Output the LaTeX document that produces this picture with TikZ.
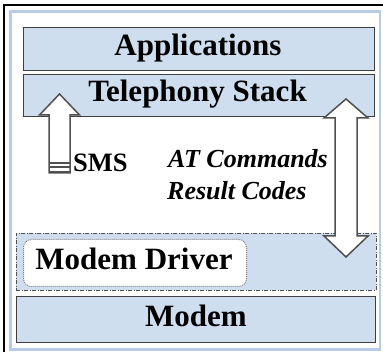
\documentclass[tikz,border=0pt]{standalone}
\usepackage{fontspec}
\setmainfont{Liberation Serif}
\definecolor{layerblue}{RGB}{206,222,238}
\definecolor{frameblue}{RGB}{184,204,232}
\definecolor{edgegray}{RGB}{80,80,80}
\begin{document}
\begin{tikzpicture}[x=1pt,y=-1pt,
  layer/.style={draw=black!75,fill=layerblue,line width=1pt,inner sep=0pt,anchor=north west},
  bigtxt/.style={font=\fontsize{31}{31}\selectfont\bfseries,inner sep=0pt,anchor=base},
  midtxt/.style={font=\fontsize{26.5}{26.5}\selectfont\bfseries,inner sep=0pt,anchor=base west},
  itxt/.style={font=\fontsize{26}{26}\selectfont\bfseries\itshape,inner sep=0pt,anchor=base west},
  blockarrow/.style={draw=edgegray,fill=white,line width=1.5pt,line join=miter}]
\useasboundingbox (0,0) rectangle (383,352);
\fill[white] (0,0) rectangle (383,352);
\draw[black,line width=1.2pt] (4,352) -- (4,5) -- (383,5);
\draw[frameblue,line width=2.5pt] (10.5,11.5) rectangle (380,349.5);
% layers
\node[layer,minimum width=351pt,minimum height=43pt] (apps) at (23,27) {};
\node[layer,minimum width=351pt,minimum height=42pt] (tel) at (23,74) {};
\node[draw=edgegray,fill=layerblue,line width=0.9pt,dash pattern=on 4pt off 1.5pt on 1pt off 1.5pt,
      inner sep=0pt,anchor=north west,minimum width=360pt,minimum height=57pt] (drvregion) at (16,233) {};
\node[draw=gray,fill=white,line width=1pt,densely dotted,rounded corners=8pt,inner sep=0pt,
      anchor=north west,minimum width=223pt,minimum height=47pt] (drvbox) at (23,239) {};
\node[layer,minimum width=359pt,minimum height=46pt] (modem) at (16,296) {};
% texts
\node[bigtxt] (tapps) at (198,56) {Applications};
\node[bigtxt] (ttel) at (197.5,102) {Telephony Stack};
\node[bigtxt] (tdrv) at (134,270) {Modem Driver};
\node[bigtxt] (tmodem) at (196,327) {Modem};
\node[midtxt] (tsms) at (73,172) {SMS};
\node[itxt] (tat) at (168,168) {AT Commands};
\node[itxt] (trc) at (167,200) {Result Codes};
% SMS arrow
\draw[blockarrow] (59.5,94) -- (79.5,115) -- (70,115) -- (70,173) -- (49,173) -- (49,115) -- (39.5,115) -- cycle;
\foreach \yy in {163,167.5,172} \draw[edgegray,line width=2pt] (49,\yy) -- (70,\yy);
% AT commands double arrow
\draw[blockarrow] (346,99) -- (368,118) -- (357,118) -- (357,236) -- (368,236) -- (346,257)
  -- (324,236) -- (335,236) -- (335,118) -- (324,118) -- cycle;
\end{tikzpicture}
\end{document}
